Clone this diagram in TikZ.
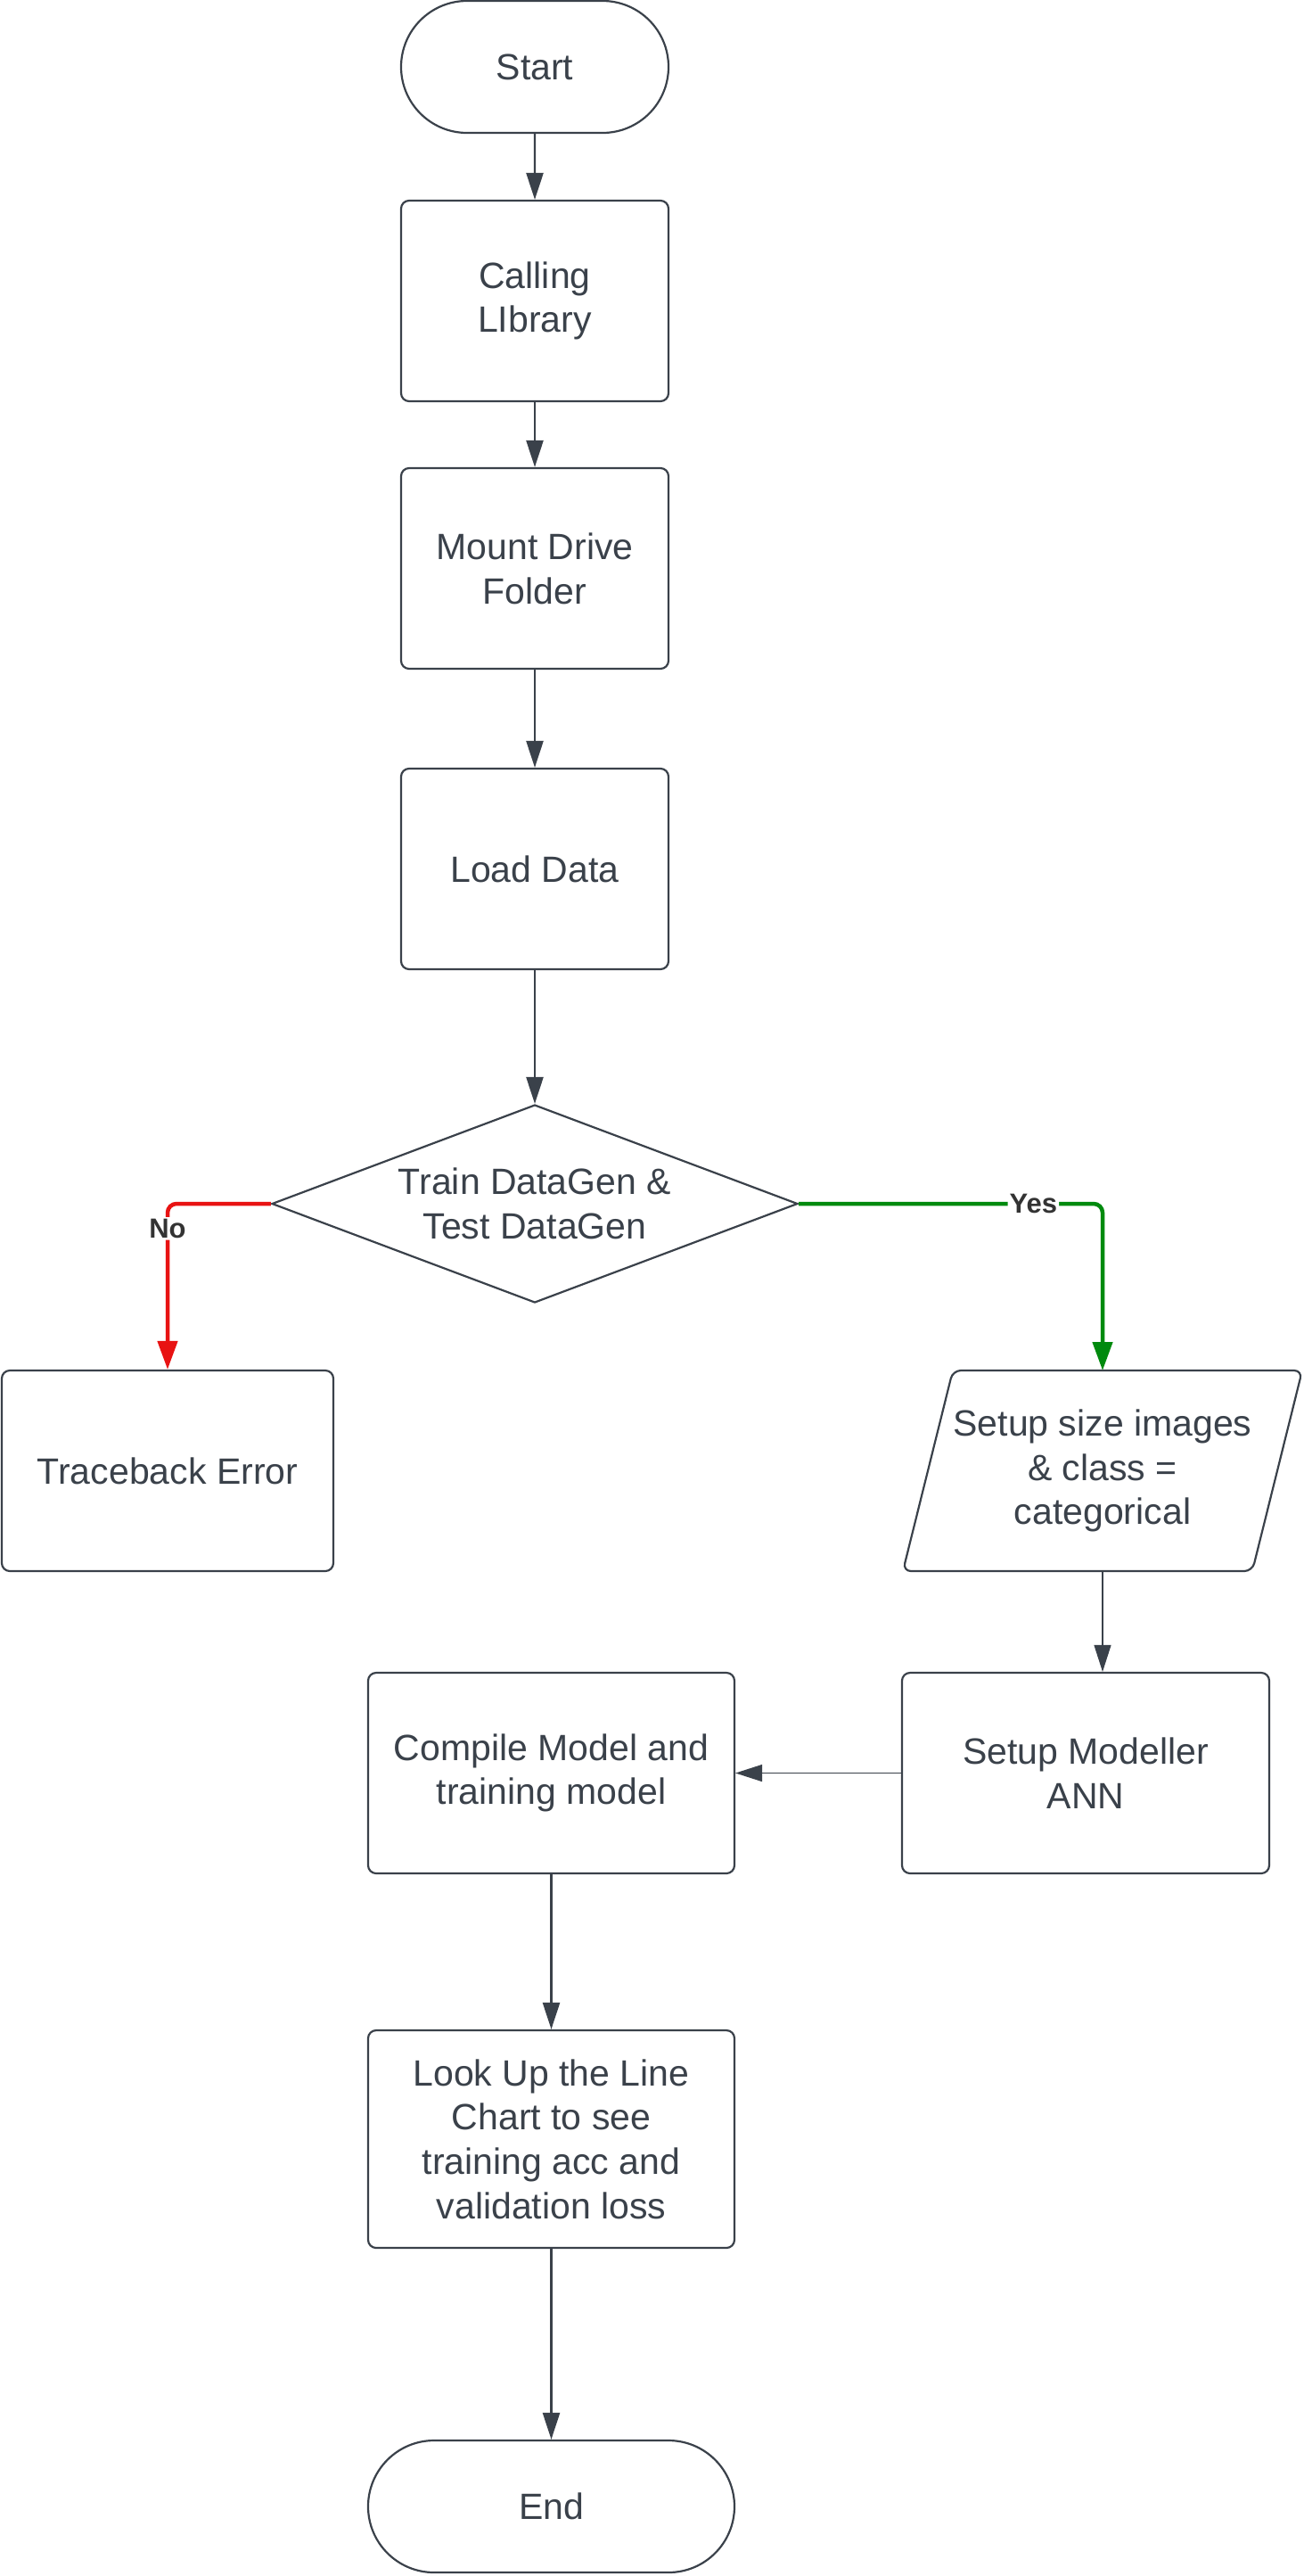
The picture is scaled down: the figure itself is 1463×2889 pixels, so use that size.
\documentclass[tikz,border=0pt]{standalone}
\usepackage{fontspec}
\setmainfont{Liberation Sans}
\usetikzlibrary{shapes.geometric,shapes.misc,arrows.meta}
\definecolor{ink}{HTML}{3A414A}
\definecolor{nored}{HTML}{E81313}
\definecolor{yesgreen}{HTML}{008A0E}
\definecolor{lblink}{HTML}{333333}
\begin{document}
\begin{tikzpicture}[x=1pt,y=-1pt,
  every node/.style={font=\fontsize{41}{49.7}\selectfont, text=ink, align=center},
  procbox/.style={draw=ink, line width=2.2pt, rounded corners=9pt, inner sep=0pt, minimum height=225pt},
  termbox/.style={draw=ink, line width=2.2pt, rounded rectangle, inner sep=0pt, minimum height=148pt},
  decbox/.style={draw=ink, line width=2.2pt, diamond, aspect=2.66, inner sep=0pt, minimum width=590pt, minimum height=222pt},
  flow/.style={draw=ink, line width=2.4pt, -{Triangle[length=30pt,width=19pt]}},
  thinflow/.style={draw=ink, line width=1.2pt, -{Triangle[length=30pt,width=19pt]}},
  noflow/.style={draw=nored, line width=4.5pt, rounded corners=10pt, -{Triangle[length=32pt,width=22pt]}},
  yesflow/.style={draw=yesgreen, line width=4.5pt, rounded corners=10pt, -{Triangle[length=32pt,width=22pt]}},
  lbl/.style={fill=white, inner sep=2pt, text=lblink, font=\fontsize{31}{36}\selectfont\bfseries}
]
\useasboundingbox (0,0) rectangle (1463,2889);

\node[termbox, minimum width=300pt] (start) at (600,75) {Start};
\node[procbox, minimum width=300pt] (lib) at (600,337.5) {Calling\\LIbrary};
\node[procbox, minimum width=300pt] (mount) at (600,637.5) {Mount Drive\\Folder};
\node[procbox, minimum width=300pt] (load) at (600,974.5) {Load Data};
\node[decbox] (dec) at (600,1350) {Train DataGen \&\\Test DataGen};
\node[procbox, minimum width=372pt] (err) at (188,1649.5) {Traceback Error};
\node[inner sep=0pt, outer sep=0pt, minimum width=448pt, minimum height=225pt] (para) at (1237,1649.5) {Setup size images\\\& class =\\categorical};
\draw[draw=ink, line width=2.2pt, rounded corners=9pt]
  ([xshift=56pt]para.north west) -- (para.north east) -- ([xshift=-56pt]para.south east) -- (para.south west) -- cycle;
\node[procbox, minimum width=412pt] (model) at (1218,1988.5) {Setup Modeller\\ANN};
\node[procbox, minimum width=411pt] (comp) at (618.5,1988.5) {Compile Model and\\training model};
\node[procbox, minimum width=411pt, minimum height=244pt] (look) at (618.5,2399) {Look Up the Line\\Chart to see\\training acc and\\validation loss};
\node[termbox, minimum width=411pt] (end) at (618.5,2811) {End};

\draw[flow] (start) -- (lib);
\draw[flow] (lib) -- (mount);
\draw[flow] (mount) -- (load);
\draw[flow] (load) -- (dec);
\draw[noflow] (dec.west) -| node[lbl, pos=0.575] {No} (err.north);
\draw[yesflow] (dec.east) -| node[lbl, pos=0.386] {Yes} (para.north);
\draw[thinflow] (para.south) -- (para.south |- model.north);
\draw[thinflow] (model.west) -- (comp.east);
\draw[flow] (comp) -- (look);
\draw[flow] (look) -- (end);
\end{tikzpicture}
\end{document}
